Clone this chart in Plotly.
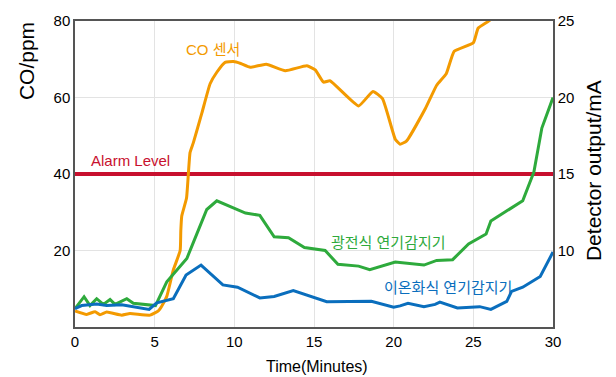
import plotly.graph_objects as go

# CO sensor (ppm, left axis)
co_t = [0, 0.73, 1.26, 1.57, 1.99, 2.93, 3.45, 4.71, 5.23, 5.45, 5.76, 6.17, 6.6, 6.64, 6.7,
        7.0, 7.22, 7.43, 7.96, 8.48, 8.9, 9.42, 9.94, 10.4, 11.0, 12.0, 13.2, 14.55, 15.08,
        15.6, 16.0, 17.8, 18.7, 19.3, 20.1, 20.4, 20.8, 22.0, 22.7, 23.3, 23.8, 25.0, 25.3,
        25.9, 26.6]
co_ppm = [4.2, 3.3, 4.0, 3.2, 3.9, 3.1, 3.5, 3.1, 4.2, 5.5, 8.0, 14.9, 20.0, 25.1, 29.0,
          33.7, 45.6, 48.2, 55.9, 63.6, 66.6, 69.2, 69.4, 68.9, 67.9, 68.7, 67.0, 68.3, 67.2,
          64.0, 64.4, 57.8, 61.6, 59.7, 49.1, 47.8, 48.6, 57.2, 63.2, 66.2, 72.1, 74.3, 78.1,
          79.8, 82.0]

# photoelectric smoke detector (mA, right axis)
pe_t = [0, 0.57, 0.94, 1.36, 1.78, 2.2, 2.51, 3.25, 3.66, 5.05, 5.76, 7.02, 7.43, 8.27, 8.9,
        9.74, 10.7, 11.6, 12.5, 13.4, 14.4, 15.7, 16.5, 17.8, 18.5, 20.1, 21.9, 22.7, 23.7,
        24.7, 25.8, 26.1, 28.1, 28.8, 29.3, 30]
pe_ma = [6.2, 6.98, 6.4, 6.85, 6.48, 6.8, 6.48, 6.85, 6.55, 6.4, 7.95, 9.48, 10.53, 12.68,
         13.25, 12.88, 12.45, 12.3, 10.9, 10.83, 10.2, 10.0, 9.1, 8.98, 8.75, 9.25, 9.05,
         9.35, 9.4, 10.43, 11.08, 11.93, 13.25, 15.13, 18.0, 20.0]

# ionization smoke detector (mA, right axis)
io_t = [0, 0.42, 1.36, 1.99, 2.93, 3.88, 4.65, 5.13, 6.17, 6.97, 7.91, 9.28, 10.2, 11.6,
        12.5, 13.7, 14.8, 15.8, 18.6, 20.0, 20.4, 20.9, 21.9, 22.6, 22.9, 24.0, 25.4, 26.1,
        27.1, 27.4, 28.1, 29.2, 30]
io_ma = [6.2, 6.4, 6.5, 6.4, 6.45, 6.3, 6.15, 6.58, 6.85, 8.4, 9.05, 7.75, 7.6, 6.9, 7.0,
         7.38, 7.0, 6.65, 6.68, 6.3, 6.38, 6.55, 6.33, 6.48, 6.63, 6.25, 6.33, 6.15, 6.68,
         7.33, 7.6, 8.3, 9.9]

alarm_t = [0, 30]
alarm_ppm = [40, 40]

ORANGE = '#F39A00'
GREEN = '#2EAA3C'
BLUE = '#0A6EBD'
RED = '#C8102E'
FONT = 'Liberation Sans, Arial, Noto Sans CJK KR'

fig = go.Figure()
fig.add_trace(go.Scatter(x=alarm_t, y=alarm_ppm, mode='lines',
                         line=dict(color=RED, width=4), hoverinfo='skip'))
fig.add_trace(go.Scatter(x=co_t, y=co_ppm, mode='lines',
                         line=dict(color=ORANGE, width=3, shape='spline', smoothing=0.4)))
fig.add_trace(go.Scatter(x=pe_t, y=pe_ma, mode='lines', yaxis='y2',
                         line=dict(color=GREEN, width=3)))
fig.add_trace(go.Scatter(x=io_t, y=io_ma, mode='lines', yaxis='y2',
                         line=dict(color=BLUE, width=3)))

labels = [
    dict(x=8.67, y=72.6, text='CO 센서', color=ORANGE),
    dict(x=0.88, y=43.6, text='Alarm Level', color=RED, xanchor='left'),
    dict(x=19.7, y=22.1, text='광전식 연기감지기', color=GREEN),
    dict(x=23.4, y=10.2, text='이온화식 연기감지기', color=BLUE),
]
for a in labels:
    fig.add_annotation(x=a['x'], y=a['y'], text=a['text'], showarrow=False,
                       xanchor=a.get('xanchor', 'center'),
                       font=dict(family=FONT, size=15, color=a['color']))

# axis titles placed by hand
fig.add_annotation(x=-0.1025, y=1.003, xref='paper', yref='paper', text='CO/ppm',
                   textangle=-90, showarrow=False, xanchor='center', yanchor='top',
                   font=dict(family=FONT, size=21, color='black'))
fig.add_annotation(x=1.086, y=0.51, xref='paper', yref='paper', text='Detector output/mA',
                   textangle=-90, showarrow=False, xanchor='center', yanchor='middle',
                   font=dict(family=FONT, size=21, color='black'))
fig.add_annotation(x=0.506, y=-0.129, xref='paper', yref='paper', text='Time(Minutes)',
                   showarrow=False, xanchor='center', yanchor='middle',
                   font=dict(family=FONT, size=16, color='black'))

fig.update_layout(
    width=616, height=377,
    margin=dict(l=75, r=63, t=16, b=50),
    plot_bgcolor='white', paper_bgcolor='white',
    showlegend=False,
    font=dict(family=FONT, size=15, color='black'),
    xaxis=dict(range=[0, 30], tickvals=[0, 5, 10, 15, 20, 25, 30], showgrid=True,
               gridcolor='#E3E3E3', gridwidth=1, showline=True, linecolor='#555555',
               linewidth=1.5, mirror=True, zeroline=False, ticks=''),
    yaxis=dict(range=[0, 80], tickvals=[20, 40, 60, 80], showgrid=True,
               gridcolor='#E3E3E3', gridwidth=1, showline=True, linecolor='#555555',
               linewidth=1.5, zeroline=False, ticks='', ticklabeloverflow='allow'),
    yaxis2=dict(range=[5, 25], tickvals=[10, 15, 20, 25], overlaying='y', side='right',
                showgrid=False, showline=True, linecolor='#555555', linewidth=1.5,
                zeroline=False, ticks='', ticklabeloverflow='allow'),
)

# drop the default page margin so the 616x377 figure fills the window exactly
fig.write_html("out.html", config={'displayModeBar': False},
               post_script="document.body.style.margin='0';document.body.style.overflow='hidden';")
